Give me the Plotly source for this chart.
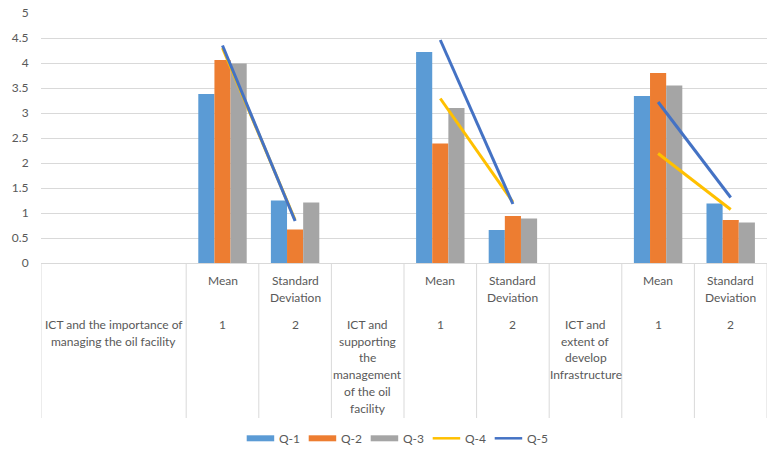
import plotly.graph_objects as go

# ---- data ----
group_labels = [
    ["ICT and the importance of", "managing the oil facility"],
    ["ICT and", "supporting", "the", "management", "of the oil", "facility"],
    ["ICT and", "extent of", "develop", "Infrastructure"],
]
stat_labels = [["Mean"], ["Standard", "Deviation"]]
index_labels = ["1", "2"]

# 10 category slots: [group1 (2 slots), Mean, SD, group2, Mean, SD, group3, Mean, SD]
q1 = [None, None, 3.38, 1.25, None, 4.22, 0.66, None, 3.34, 1.19]
q2 = [None, None, 4.06, 0.67, None, 2.39, 0.94, None, 3.80, 0.86]
q3 = [None, None, 3.99, 1.21, None, 3.10, 0.89, None, 3.55, 0.81]
q4 = [None, None, 4.30, 0.86, None, 3.29, 1.22, None, 2.19, 1.07]
q5 = [None, None, 4.35, 0.84, None, 4.46, 1.18, None, 3.22, 1.31]

series_names = ["Q-1", "Q-2", "Q-3", "Q-4", "Q-5"]
series_kinds = ["bar", "bar", "bar", "line", "line"]
colors = ["#5B9BD5", "#ED7D31", "#A5A5A5", "#FFC000", "#4472C4"]

n = len(q1)
xs = list(range(n))

fig = go.Figure()
for name, vals, col in zip(series_names[:3], [q1, q2, q3], colors[:3]):
    fig.add_trace(go.Bar(x=xs, y=vals, name=name, showlegend=False,
                         marker=dict(color=col, line=dict(width=0))))
for name, vals, col in zip(series_names[3:], [q4, q5], colors[3:]):
    fig.add_trace(go.Scatter(x=xs, y=vals, name=name, mode="lines", showlegend=False,
                             line=dict(color=col, width=3), connectgaps=False))

# ---- category table below the axis ----
W = 780.0
TOP = 263.0
PLOT_H = 250.0
LEFT = 41.0
PLOT_W = 726.0


def py2paper(py):
    return (TOP - py) / PLOT_H


def px2paper(px):
    return (px - LEFT) / PLOT_W


txt_font = dict(family="Lato, Open Sans, sans-serif", size=12, color="#595959")
annotations = []
shapes = []

bounds = [-0.5, 1.5, 2.5, 3.5, 4.5, 5.5, 6.5, 7.5, 8.5, 9.5]
for b in bounds:
    shapes.append(dict(type="line", xref="x", yref="paper", x0=b, x1=b,
                       y0=0, y1=py2paper(418), line=dict(color="#D9D9D9", width=1)))

group_centers = [0.5, 4, 7]
stat_centers = [[2, 3], [5, 6], [8, 9]]
line_h = 16.8
for g, gc in enumerate(group_centers):
    for i, line in enumerate(group_labels[g]):
        annotations.append(dict(x=gc, xref="x", y=py2paper(324.3 + i * line_h), yref="paper",
                                text=line, showarrow=False, font=txt_font,
                                xanchor="center", yanchor="middle"))
    for s, sc in enumerate(stat_centers[g]):
        for i, line in enumerate(stat_labels[s]):
            annotations.append(dict(x=sc, xref="x", y=py2paper(280.7 + i * line_h), yref="paper",
                                    text=line, showarrow=False, font=txt_font,
                                    xanchor="center", yanchor="middle"))
        annotations.append(dict(x=sc, xref="x", y=py2paper(324.3), yref="paper",
                                text=index_labels[s], showarrow=False, font=txt_font,
                                xanchor="center", yanchor="middle"))

# ---- custom Excel-like legend ----
leg_y = 438.3
leg_x0 = 246.7
item_step = 62.0
sw_w = 27.5
for k, (name, kind, col) in enumerate(zip(series_names, series_kinds, colors)):
    x0 = leg_x0 + k * item_step
    if kind == "bar":
        shapes.append(dict(type="rect", xref="paper", yref="paper",
                           x0=px2paper(x0), x1=px2paper(x0 + sw_w),
                           y0=py2paper(leg_y - 3), y1=py2paper(leg_y + 3),
                           fillcolor=col, line=dict(width=0)))
    else:
        shapes.append(dict(type="line", xref="paper", yref="paper",
                           x0=px2paper(x0), x1=px2paper(x0 + sw_w),
                           y0=py2paper(leg_y), y1=py2paper(leg_y),
                           line=dict(color=col, width=2.5)))
    annotations.append(dict(x=px2paper(x0 + sw_w + 3), xref="paper", y=py2paper(leg_y), yref="paper",
                            text=name, showarrow=False, font=txt_font,
                            xanchor="left", yanchor="middle"))

fig.update_layout(
    width=780, height=449,
    margin=dict(l=41, r=13, t=13, b=186, autoexpand=False),
    paper_bgcolor="white", plot_bgcolor="white",
    barmode="group", bargap=0.333, bargroupgap=0,
    font=txt_font,
    showlegend=False,
    xaxis=dict(range=[-0.5, 9.5], showticklabels=False, showgrid=False, zeroline=False,
               showline=False, fixedrange=True, automargin=False),
    yaxis=dict(range=[0, 5], dtick=0.5, tick0=0, showgrid=True, gridcolor="#D9D9D9",
               gridwidth=1, zeroline=True, zerolinecolor="#D9D9D9", zerolinewidth=1,
               showline=False, ticks="outside", ticklen=9, tickcolor="rgba(0,0,0,0)",
               tickfont=txt_font, fixedrange=True, automargin=False),
    annotations=annotations,
    shapes=shapes,
)

fig.write_html("out.html")
